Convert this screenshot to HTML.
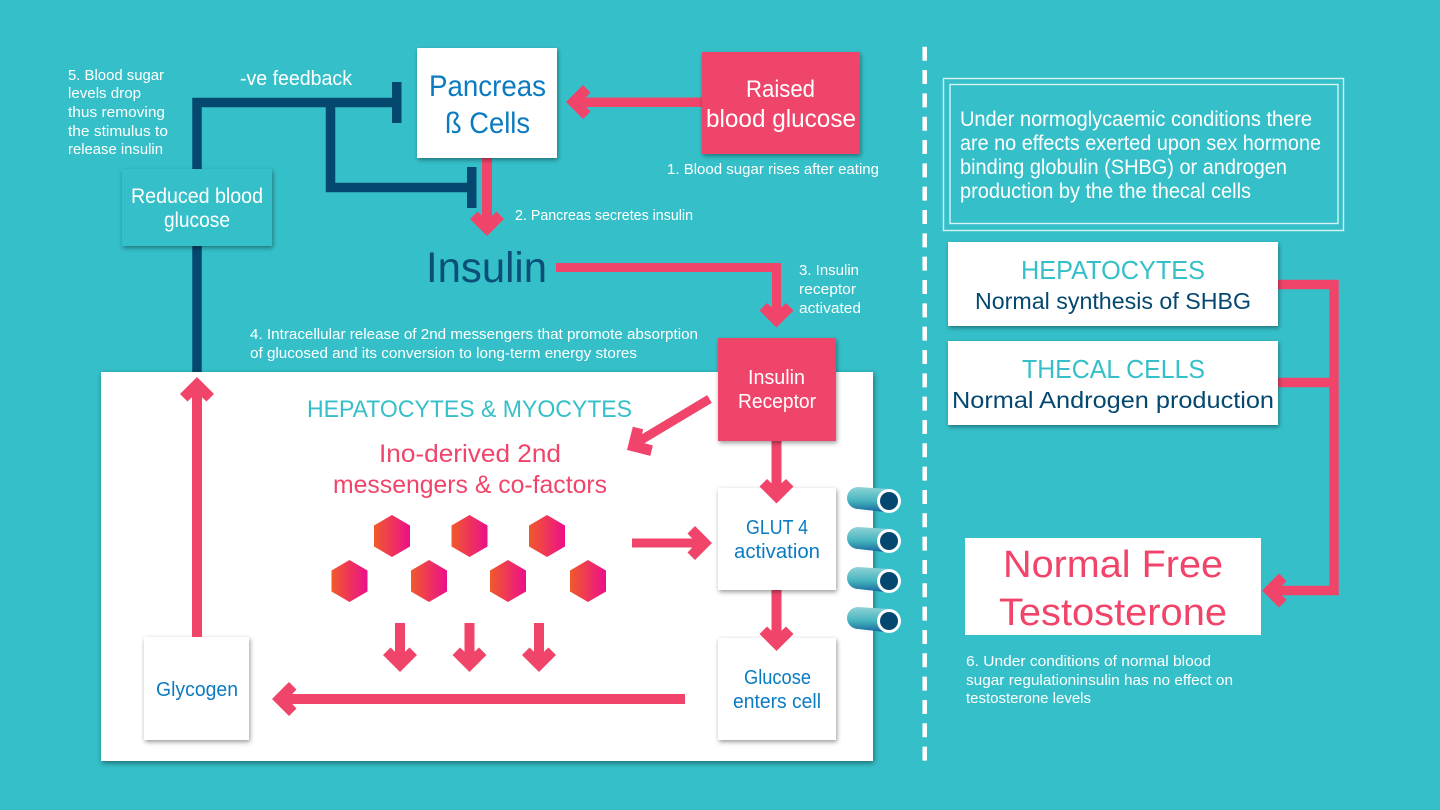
<!DOCTYPE html>
<html>
<head>
<meta charset="utf-8">
<style>
html,body{margin:0;padding:0;background:#35c0c9;}
svg{display:block;}
text{font-family:"Liberation Sans",sans-serif;}
</style>
</head>
<body>
<svg width="1440" height="810" viewBox="0 0 1440 810" xmlns="http://www.w3.org/2000/svg">
<defs>
<filter id="s" x="-15%" y="-15%" width="130%" height="130%"><feDropShadow dx="1" dy="2" stdDeviation="2.5" flood-color="#000" flood-opacity=".4"/></filter>
<filter id="s2" x="-5%" y="-5%" width="110%" height="110%"><feDropShadow dx="1" dy="2" stdDeviation="3" flood-color="#000" flood-opacity=".45"/></filter>
<linearGradient id="hx" x1="0" x2="1" y1="0" y2="0"><stop offset="0" stop-color="#f15a29"/><stop offset="1" stop-color="#ec0f8c"/></linearGradient>
<linearGradient id="cy" x1="0" x2="0" y1="0" y2="1"><stop offset="0" stop-color="#8fd4d8"/><stop offset=".55" stop-color="#46b3be"/><stop offset="1" stop-color="#14639a"/></linearGradient>
<polygon id="ah" points="0,0 -17,-17 -9.500,-24.500 0,-15.500 9.500,-24.500 17,-17" fill="#f0446a"/>
<polygon id="hex" points="0,-21 18,-10.5 18,10.5 0,21 -18,10.5 -18,-10.5" fill="url(#hx)"/>
<g id="cyl">
<path d="M11,-13 L42,-11 L42,12.5 L11,9 A11,11 0 0 1 11,-13 Z" fill="url(#cy)"/>
<circle cx="42" cy="1" r="12" fill="#fff"/>
<circle cx="42" cy="1" r="9" fill="#04476f"/>
</g>
</defs>

<rect width="1440" height="810" fill="#35c0c9"/>

<!-- divider -->
<line x1="924.700" y1="46.700" x2="924.700" y2="761" stroke="#fff" stroke-width="4.500" stroke-dasharray="14 9.330"/>

<!-- navy feedback -->
<path d="M197,372 V102.5 H397 M330.500,102.500 V187.500 H471" fill="none" stroke="#04476f" stroke-width="9.500"/>
<rect x="392" y="82" width="9.500" height="41" fill="#04476f"/>

<!-- arrow pancreas to insulin -->
<rect x="482" y="150" width="10" height="75" fill="#f0446a"/>
<use href="#ah" transform="translate(487,236)"/>
<rect x="467" y="167" width="9.500" height="41" fill="#04476f"/>

<!-- raised to pancreas shaft -->
<rect x="575" y="97.500" width="130" height="9.500" fill="#f0446a"/>

<!-- pancreas & raised -->
<rect x="417" y="48" width="140" height="110" fill="#fff" filter="url(#s)"/>
<rect x="702" y="52" width="158" height="102" fill="#f0446a" filter="url(#s)"/>
<use href="#ah" transform="translate(566,102) rotate(90)"/>

<!-- reduced -->
<rect x="122" y="169" width="150" height="77" fill="#35c0c9" filter="url(#s)"/>

<!-- insulin arrow -->
<path d="M556,267.500 H776.500 V315" fill="none" stroke="#f0446a" stroke-width="9"/>
<use href="#ah" transform="translate(776.500,327.500)"/>

<!-- main panel -->
<rect x="101" y="372" width="772" height="389" fill="#fff" filter="url(#s2)"/>

<!-- cylinders -->
<use href="#cyl" transform="translate(847,500)"/>
<use href="#cyl" transform="translate(847,540)"/>
<use href="#cyl" transform="translate(847,580)"/>
<use href="#cyl" transform="translate(847,620)"/>

<!-- inner boxes, stacked so shadows fall over shafts and heads sit on target boxes -->
<rect x="718" y="638" width="118" height="102" fill="#fff" filter="url(#s)"/>
<rect x="771.500" y="585" width="10" height="58" fill="#f0446a"/>
<use href="#ah" transform="translate(776.500,651)"/>
<rect x="718" y="488" width="118" height="102" fill="#fff" filter="url(#s)"/>
<rect x="771.500" y="436" width="10" height="58" fill="#f0446a"/>
<use href="#ah" transform="translate(776.500,503.500)"/>
<rect x="718" y="338" width="118" height="103" fill="#f0446a" filter="url(#s)"/>
<rect x="144" y="637" width="105" height="103" fill="#fff" filter="url(#s)"/>

<!-- inner arrows -->
<line x1="709.500" y1="399" x2="636" y2="443" stroke="#f0446a" stroke-width="9"/>
<use href="#ah" transform="translate(627,450) rotate(59)"/>
<rect x="632" y="538.500" width="70" height="9" fill="#f0446a"/>
<use href="#ah" transform="translate(712,543) rotate(-90)"/>
<rect x="285" y="694" width="400" height="10" fill="#f0446a"/>
<use href="#ah" transform="translate(272,699) rotate(90)"/>
<rect x="192" y="390" width="10" height="247" fill="#f0446a"/>
<use href="#ah" transform="translate(197,377) rotate(180)"/>
<rect x="395" y="623" width="10" height="40" fill="#f0446a"/>
<use href="#ah" transform="translate(400,672)"/>
<rect x="464.500" y="623" width="10" height="40" fill="#f0446a"/>
<use href="#ah" transform="translate(469.500,672)"/>
<rect x="534" y="623" width="10" height="40" fill="#f0446a"/>
<use href="#ah" transform="translate(539,672)"/>

<!-- hexagons -->
<use href="#hex" transform="translate(392,536)"/>
<use href="#hex" transform="translate(469.500,536)"/>
<use href="#hex" transform="translate(547,536)"/>
<use href="#hex" transform="translate(349.500,581)"/>
<use href="#hex" transform="translate(429,581)"/>
<use href="#hex" transform="translate(508,581)"/>
<use href="#hex" transform="translate(588,581)"/>

<!-- right column -->
<rect x="943.500" y="78.500" width="400" height="152" fill="none" stroke="#d8f3f4" stroke-width="1.400"/>
<rect x="950" y="84.500" width="388" height="139" fill="none" stroke="#d8f3f4" stroke-width="1.400"/>
<path d="M1270,284.500 H1334 V590.500 H1275 M1270,382.500 H1334" fill="none" stroke="#f0446a" stroke-width="9.500"/>
<rect x="948" y="242" width="330" height="84" fill="#fff" filter="url(#s)"/>
<rect x="948" y="341" width="330" height="84" fill="#fff" filter="url(#s)"/>
<rect x="965" y="538" width="296" height="97" fill="#fff"/>
<use href="#ah" transform="translate(1262,590.500) rotate(90)"/>

<!-- text: white -->
<g fill="#fff">
<text x="667" y="174" font-size="15" textLength="212" lengthAdjust="spacingAndGlyphs">1. Blood sugar rises after eating</text>
<text x="515" y="220" font-size="15" textLength="178" lengthAdjust="spacingAndGlyphs">2. Pancreas secretes insulin</text>
<text x="799" y="275" font-size="15" textLength="60" lengthAdjust="spacingAndGlyphs">3. Insulin</text>
<text x="799" y="294" font-size="15" textLength="57" lengthAdjust="spacingAndGlyphs">receptor</text>
<text x="799" y="313" font-size="15" textLength="62" lengthAdjust="spacingAndGlyphs">activated</text>
<text x="250" y="339" font-size="15" textLength="448" lengthAdjust="spacingAndGlyphs">4. Intracellular release of 2nd messengers that promote absorption</text>
<text x="250" y="358" font-size="15" textLength="387" lengthAdjust="spacingAndGlyphs">of glucosed and its conversion to long-term energy stores</text>
<text x="68" y="80" font-size="15" textLength="96" lengthAdjust="spacingAndGlyphs">5. Blood sugar</text>
<text x="68" y="98" font-size="15" textLength="73" lengthAdjust="spacingAndGlyphs">levels drop</text>
<text x="68" y="117" font-size="15" textLength="97" lengthAdjust="spacingAndGlyphs">thus removing</text>
<text x="68" y="136" font-size="15" textLength="100" lengthAdjust="spacingAndGlyphs">the stimulus to</text>
<text x="68" y="154" font-size="15" textLength="95" lengthAdjust="spacingAndGlyphs">release insulin</text>
<text x="240" y="85" font-size="20" textLength="112" lengthAdjust="spacingAndGlyphs">-ve feedback</text>
<text x="131" y="203" font-size="21" textLength="132" lengthAdjust="spacingAndGlyphs">Reduced blood</text>
<text x="164" y="227" font-size="21" textLength="66" lengthAdjust="spacingAndGlyphs">glucose</text>
<text x="746" y="97" font-size="24" textLength="69" lengthAdjust="spacingAndGlyphs">Raised</text>
<text x="706" y="127" font-size="25" textLength="150" lengthAdjust="spacingAndGlyphs">blood glucose</text>
<text x="748" y="384" font-size="20" textLength="57" lengthAdjust="spacingAndGlyphs">Insulin</text>
<text x="738" y="408" font-size="20" textLength="78" lengthAdjust="spacingAndGlyphs">Receptor</text>
<text x="960" y="126" font-size="21" textLength="352" lengthAdjust="spacingAndGlyphs">Under normoglycaemic conditions there</text>
<text x="960" y="150" font-size="21" textLength="361" lengthAdjust="spacingAndGlyphs">are no effects exerted upon sex hormone</text>
<text x="960" y="174" font-size="21" textLength="327" lengthAdjust="spacingAndGlyphs">binding globulin (SHBG) or androgen</text>
<text x="960" y="198" font-size="21" textLength="291" lengthAdjust="spacingAndGlyphs">production by the the thecal cells</text>
<text x="966" y="666" font-size="15" textLength="245" lengthAdjust="spacingAndGlyphs">6. Under conditions of normal blood</text>
<text x="966" y="685" font-size="15" textLength="267" lengthAdjust="spacingAndGlyphs">sugar regulationinsulin has no effect on</text>
<text x="966" y="703" font-size="15" textLength="125" lengthAdjust="spacingAndGlyphs">testosterone levels</text>
</g>

<!-- text: blue -->
<g fill="#0b7bc1">
<text x="429" y="96" font-size="30" textLength="117" lengthAdjust="spacingAndGlyphs">Pancreas</text>
<text x="445" y="133" font-size="30" textLength="85" lengthAdjust="spacingAndGlyphs">ß Cells</text>
<text x="746" y="534" font-size="20" textLength="62" lengthAdjust="spacingAndGlyphs">GLUT 4</text>
<text x="734" y="558" font-size="20" textLength="86" lengthAdjust="spacingAndGlyphs">activation</text>
<text x="744" y="684" font-size="20" textLength="67" lengthAdjust="spacingAndGlyphs">Glucose</text>
<text x="733" y="708" font-size="20" textLength="88" lengthAdjust="spacingAndGlyphs">enters cell</text>
<text x="156" y="696" font-size="20" textLength="82" lengthAdjust="spacingAndGlyphs">Glycogen</text>
</g>

<text x="426" y="282" font-size="43" fill="#0b4f78" textLength="121" lengthAdjust="spacingAndGlyphs">Insulin</text>

<!-- text: teal -->
<g fill="#35c0c9">
<text x="307" y="417" font-size="24" textLength="325" lengthAdjust="spacingAndGlyphs">HEPATOCYTES &amp; MYOCYTES</text>
<text x="1021" y="279" font-size="26" textLength="184" lengthAdjust="spacingAndGlyphs">HEPATOCYTES</text>
<text x="1022" y="378" font-size="26" textLength="183" lengthAdjust="spacingAndGlyphs">THECAL CELLS</text>
</g>

<!-- text: navy -->
<g fill="#04476f">
<text x="975" y="309" font-size="23" textLength="276" lengthAdjust="spacingAndGlyphs">Normal synthesis of SHBG</text>
<text x="952" y="408" font-size="23" textLength="322" lengthAdjust="spacingAndGlyphs">Normal Androgen production</text>
</g>

<!-- text: pink -->
<g fill="#f0446a">
<text x="379" y="462" font-size="25" textLength="182" lengthAdjust="spacingAndGlyphs">Ino-derived 2nd</text>
<text x="333" y="493" font-size="25" textLength="274" lengthAdjust="spacingAndGlyphs">messengers &amp; co-factors</text>
<text x="1003" y="577" font-size="38" textLength="220" lengthAdjust="spacingAndGlyphs">Normal Free</text>
<text x="999" y="625" font-size="38" textLength="228" lengthAdjust="spacingAndGlyphs">Testosterone</text>
</g>
</svg>
</body>
</html>
